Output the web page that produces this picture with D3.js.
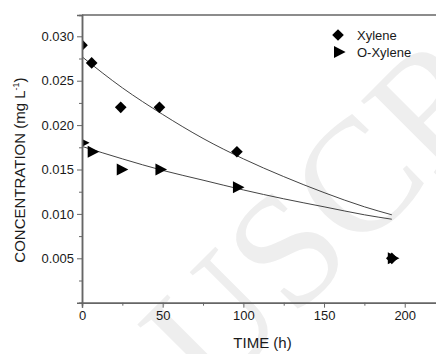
<!DOCTYPE html>
<html>
	<head>
		<meta http-equiv="Content-Type" content="text/html;charset=utf-8"/>
		<title>Concentration vs time</title>
		<script src="https://d3js.org/d3.v7.min.js"></script>
		<style type="text/css">
			body { margin: 0; background: #fff; }
			text { font-family: "Liberation Sans", Arial, sans-serif; fill: #1a1a1a; }
			.fit { fill: none; stroke: #444; stroke-width: 1; }
			.mark { fill: #000; }
		</style>
	</head>
	<body>
		<script type="text/javascript">

			//Measured points (time in h, concentration in mg/L)
			var times = [0, 6, 24, 48, 96, 192];
			var xylene = [0.029, 0.027, 0.022, 0.022, 0.017, 0.005];
			var oXylene = [0.018, 0.017, 0.015, 0.015, 0.013, 0.005];

			//Fitted curves
			var fitTimes = [0, 25, 50, 75, 100, 125, 150, 175, 192];
			var xyleneFit = [0.0277, 0.0242, 0.0212, 0.0185, 0.0162, 0.0142, 0.0124, 0.0108, 0.0099];
			var oXyleneFit = [0.0176, 0.0162, 0.0149, 0.0138, 0.0127, 0.0117, 0.0108, 0.0099, 0.0094];

			var xTicks = [0, 50, 100, 150, 200];
			var yTicks = [0.005, 0.010, 0.015, 0.020, 0.025, 0.030];
			var legendNames = ["Xylene", "O-Xylene"];

			var w = 436, h = 354;
			var mLeft = 82, mRight = 437, mTop = 15, mBottom = 302.7;

			var x = d3.scaleLinear().domain([0, 220]).range([mLeft, mRight]);
			var y = d3.scaleLinear().domain([0, 0.0324]).range([mBottom, mTop]);

			var svg = d3.select("body").append("svg")
						.attr("width", w)
						.attr("height", h);

			//Faint watermark behind the plot
			svg.append("text")
				.attr("transform", "translate(210,402) rotate(-45)")
				.style("font-family", "'Liberation Serif', serif")
				.style("font-size", "162px")
				.style("fill", "#eeeeee")
				.text("USCRIPT");

			svg.append("clipPath").attr("id", "plot")
				.append("rect")
				.attr("x", mLeft).attr("y", mTop)
				.attr("width", mRight - mLeft).attr("height", mBottom - mTop);

			//Fitted lines
			var line = d3.line()
						.x(function(d) { return x(d[0]); })
						.y(function(d) { return y(d[1]); })
						.curve(d3.curveMonotoneX);

			[xyleneFit, oXyleneFit].forEach(function(s) {
				svg.append("path")
					.attr("class", "fit")
					.attr("d", line(d3.zip(fitTimes, s)));
			});

			var diamond = d3.symbol().type(d3.symbolSquare).size(68)();
			var triangle = "M-4,-6L7.6,0L-4,6Z";

			var pts = svg.append("g").attr("clip-path", "url(#plot)");

			pts.selectAll("path.dia")
				.data(d3.zip(times, xylene))
				.enter()
				.append("path")
				.attr("class", "mark dia")
				.attr("d", diamond)
				.attr("transform", function(d) {
					return "translate(" + x(d[0]) + "," + y(d[1]) + ") rotate(45)";
				});

			pts.selectAll("path.tri")
				.data(d3.zip(times, oXylene))
				.enter()
				.append("path")
				.attr("class", "mark tri")
				.attr("d", triangle)
				.attr("transform", function(d) {
					return "translate(" + x(d[0]) + "," + y(d[1]) + ")";
				});

			//Axes
			svg.append("g")
				.attr("transform", "translate(0," + mBottom + ")")
				.call(d3.axisBottom(x).tickValues(xTicks).tickSize(5).tickPadding(3).tickFormat(d3.format("d")));
			svg.append("g")
				.attr("transform", "translate(0," + mBottom + ")")
				.call(d3.axisBottom(x).tickValues([25, 75, 125, 175]).tickSize(3).tickFormat(""));

			svg.append("g")
				.attr("transform", "translate(" + mLeft + ",0)")
				.call(d3.axisLeft(y).tickValues(yTicks).tickSize(5).tickPadding(3).tickFormat(d3.format(".3f")));
			svg.append("g")
				.attr("transform", "translate(" + mLeft + ",0)")
				.call(d3.axisLeft(y).tickValues([0.0025, 0.0075, 0.0125, 0.0175, 0.0225, 0.0275]).tickSize(3).tickFormat(""));

			svg.selectAll(".domain").attr("stroke", "#666").attr("stroke-width", 1.5);
			svg.selectAll(".tick line").attr("stroke", "#666").attr("stroke-width", 1);
			svg.selectAll(".tick text").style("font-size", "13px").style("font-family", "'Liberation Sans', Arial, sans-serif").attr("fill", "#1a1a1a");

			//Top frame line
			svg.append("line")
				.attr("x1", mLeft).attr("x2", w)
				.attr("y1", mTop).attr("y2", mTop)
				.attr("stroke", "#666").attr("stroke-width", 1.5);

			//Axis titles
			svg.append("text")
				.attr("x", (mLeft + mRight) / 2 + 3)
				.attr("y", 348)
				.attr("text-anchor", "middle")
				.style("font-size", "15px")
				.text("TIME (h)");

			var yt = svg.append("text")
				.attr("transform", "translate(25," + 170 + ") rotate(-90)")
				.attr("text-anchor", "middle")
				.style("font-size", "15px");
			yt.append("tspan").text("CONCENTRATION (mg L");
			yt.append("tspan").attr("dy", -6).style("font-size", "9px").text("-1");
			yt.append("tspan").attr("dy", 6).text(")");

			//Legend
			var legend = svg.selectAll("g.leg")
				.data(legendNames)
				.enter()
				.append("g")
				.attr("class", "leg")
				.attr("transform", function(d, i) { return "translate(338," + (35 + i * 17) + ")"; });
			legend.append("path")
				.attr("class", "mark")
				.attr("d", function(d, i) { return i === 0 ? diamond : triangle; })
				.attr("transform", function(d, i) { return i === 0 ? "rotate(45)" : ""; });
			legend.append("text")
				.attr("x", 19)
				.attr("y", 5)
				.style("font-size", "13px")
				.text(function(d) { return d; });

		</script>
	</body>
</html>
